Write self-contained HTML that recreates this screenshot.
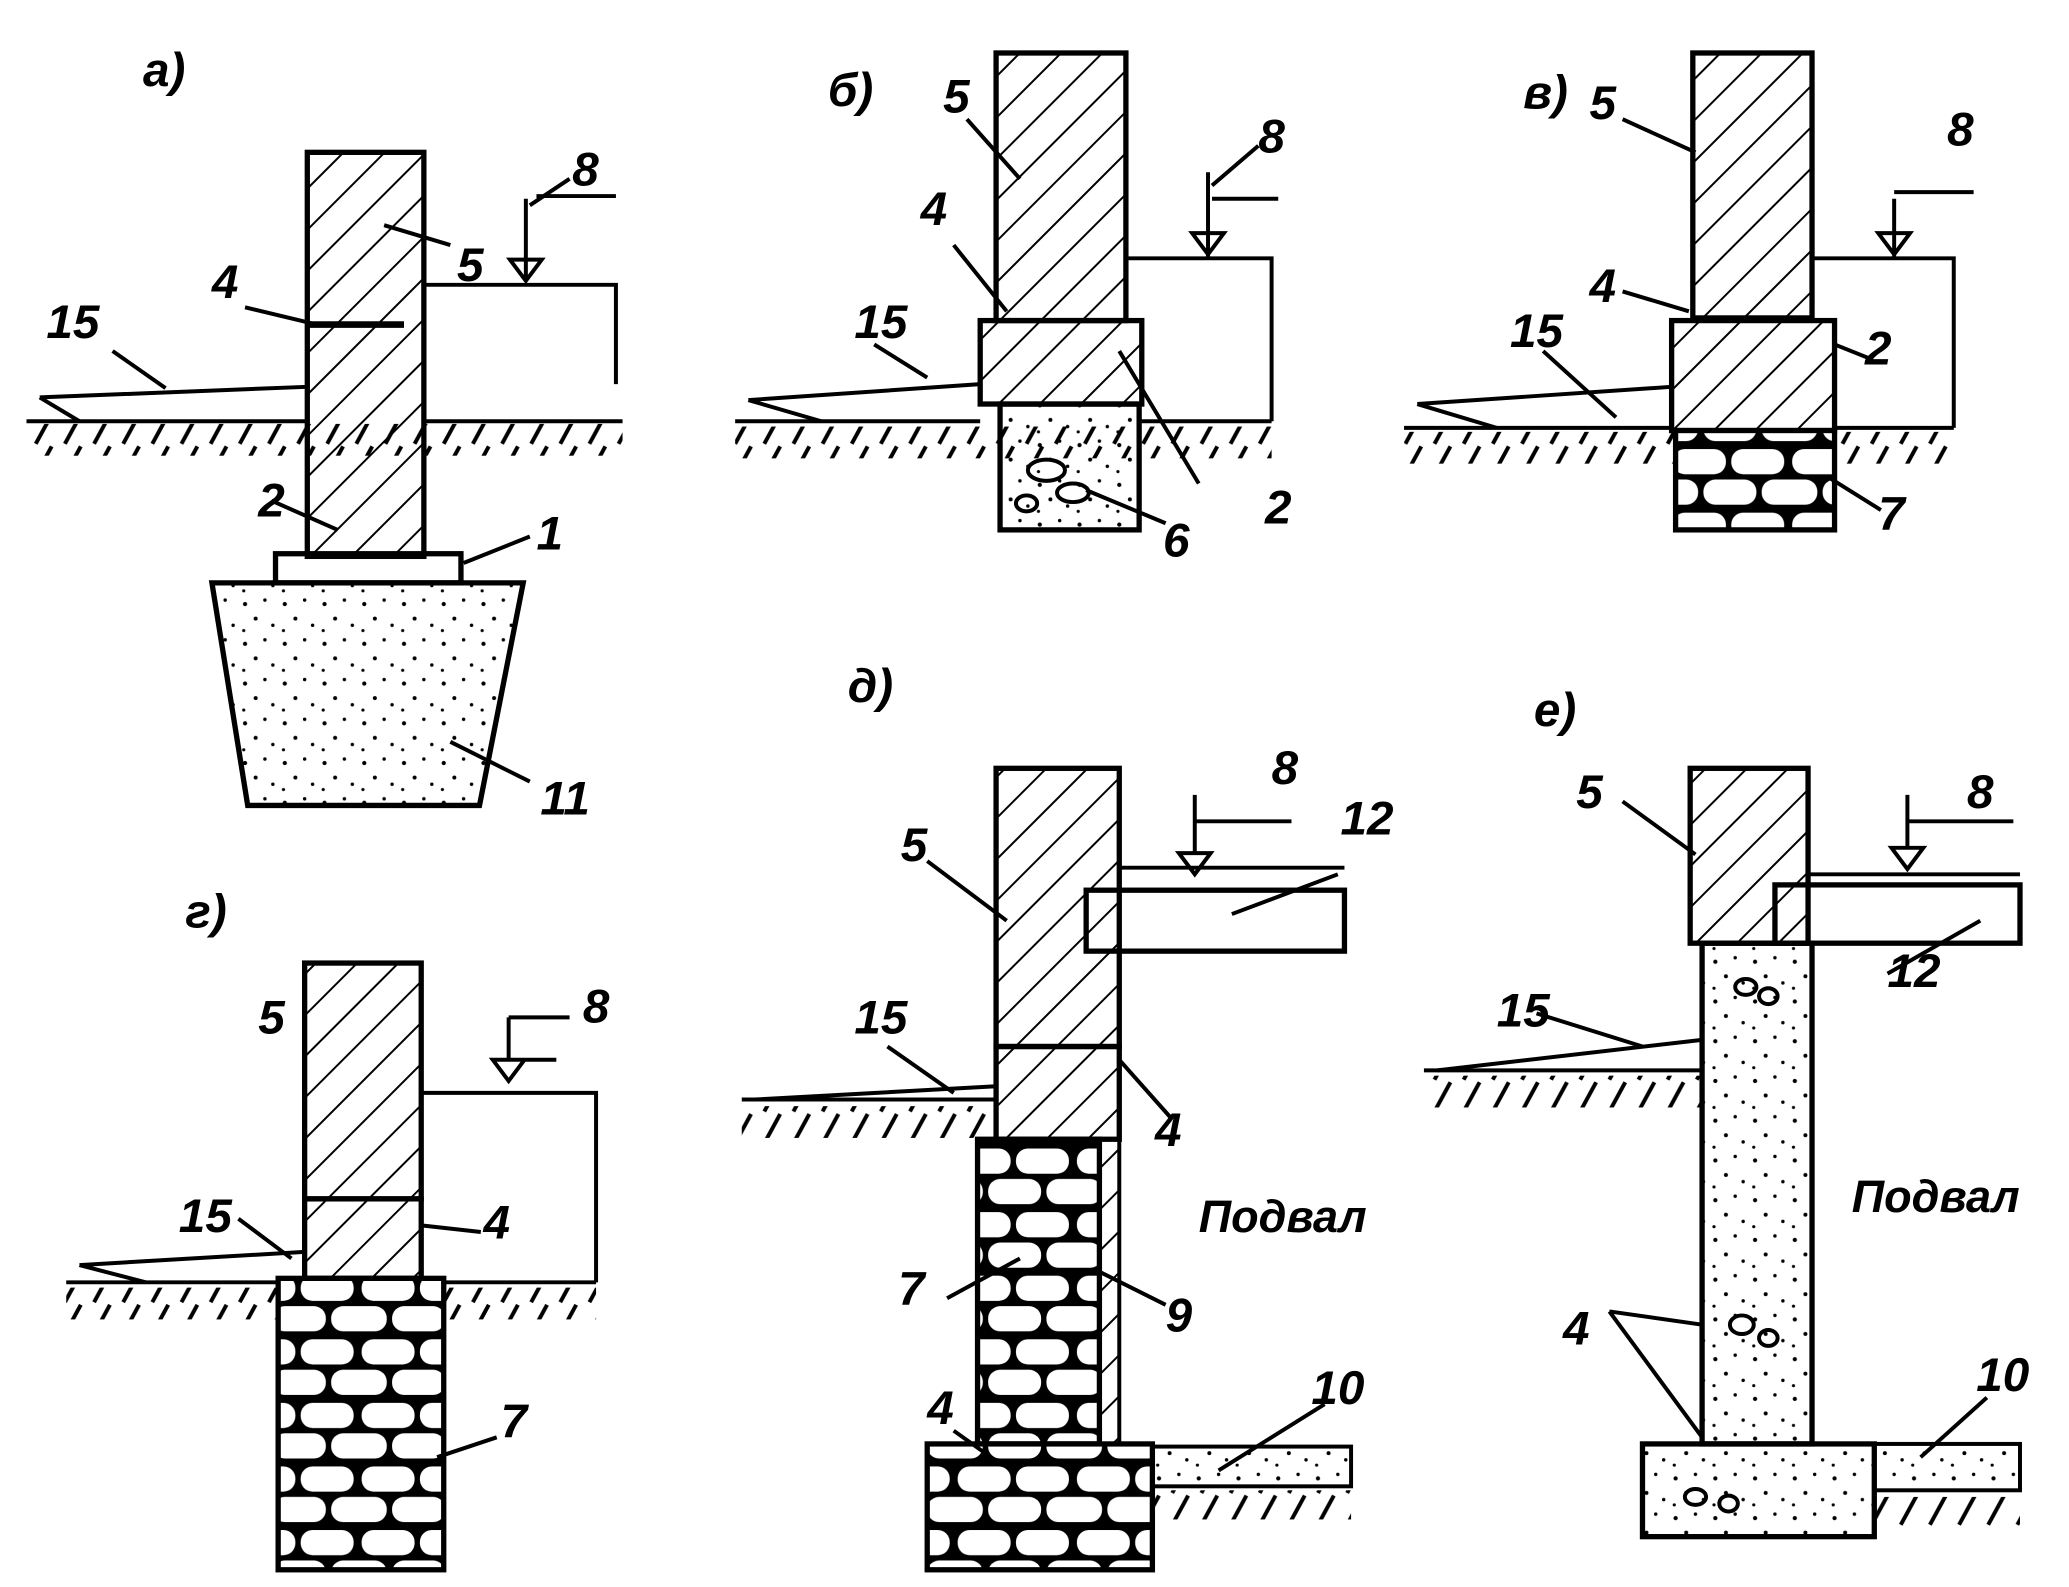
<!DOCTYPE html>
<html><head><meta charset="utf-8">
<style>html,body{margin:0;padding:0;background:#fff}svg{display:block}
text{font-family:"Liberation Sans",sans-serif;font-style:italic;font-weight:bold;fill:#000}</style></head>
<body>
<svg width="2069" height="1587" viewBox="0 0 1562 1198" preserveAspectRatio="none" xmlns="http://www.w3.org/2000/svg">
<defs>
<pattern id="h" width="22" height="22" patternUnits="userSpaceOnUse" patternTransform="rotate(45)">
<line x1="0" y1="0" x2="0" y2="22" stroke="#000" stroke-width="3"/></pattern>
<pattern id="d" width="30" height="30" patternUnits="userSpaceOnUse">
<circle cx="5" cy="6" r="1.6"/><circle cx="20" cy="3" r="1.3"/><circle cx="13" cy="17" r="1.5"/><circle cx="26" cy="22" r="1.3"/><circle cx="4" cy="26" r="1.2"/></pattern>
<pattern id="s" width="90" height="48" patternUnits="userSpaceOnUse">
<rect width="90" height="48" fill="#000"/>
<rect x="3" y="3" width="40" height="19" rx="9" fill="#fff"/><rect x="47" y="3" width="40" height="19" rx="9" fill="#fff"/>
<rect x="-20" y="26" width="42" height="19" rx="9" fill="#fff"/><rect x="26" y="26" width="40" height="19" rx="9" fill="#fff"/><rect x="70" y="26" width="42" height="19" rx="9" fill="#fff"/></pattern>
<pattern id="g" width="22" height="24" patternUnits="userSpaceOnUse">
<line x1="17" y1="1" x2="5" y2="23" stroke="#000" stroke-width="3"/></pattern>
</defs>
<g stroke="#000" stroke-width="3" fill="none">
<!-- a -->
<rect x="20" y="320" width="450" height="24" fill="url(#g)" stroke="none"/>
<line x1="20" y1="318" x2="232" y2="318"/><line x1="320" y1="318" x2="470" y2="318"/>
<path d="M30 300 L232 292 M60 318 L30 300"/>
<rect x="232" y="115" width="88" height="305" fill="url(#h)" stroke-width="4"/>
<line x1="232" y1="245" x2="305" y2="245" stroke-width="5"/>
<path d="M320 215 H465 V290"/>
<rect x="208" y="418" width="140" height="22" stroke-width="4"/>
<path d="M160 440 H395 L362 608 H187 Z" fill="url(#d)" stroke-width="4"/>
<path d="M385 196 h24 l-12 16 z M397 150 V210 M400 155 l30 -20 M405 148 H465" />
<path d="M290 170 l50 15 M185 232 l50 12 M85 265 l40 28 M205 378 l50 22 M350 425 l50 -20 M340 560 l60 30"/>
<!-- b -->
<rect x="555" y="322" width="405" height="24" fill="url(#g)" stroke="none"/>
<line x1="555" y1="318" x2="740" y2="318"/><line x1="860" y1="318" x2="960" y2="318"/>
<path d="M565 302 L740 290 M620 318 L565 302"/>
<rect x="752" y="40" width="98" height="202" fill="url(#h)" stroke-width="4"/>
<rect x="740" y="242" width="122" height="63" fill="url(#h)" stroke-width="4"/>
<rect x="755" y="305" width="105" height="95" fill="url(#d)" stroke-width="4"/>
<ellipse cx="790" cy="355" rx="14" ry="8"/><ellipse cx="810" cy="372" rx="12" ry="7"/><ellipse cx="775" cy="380" rx="8" ry="6"/>
<path d="M850 195 H960 V318 M900 176 h24 l-12 16 z M912 130 V195 M915 140 l35 -30 M915 150 H965"/>
<path d="M730 90 l40 45 M720 185 l40 50 M660 260 l40 25 M845 265 l60 100 M820 370 l60 25"/>
<!-- c -->
<rect x="1060" y="326" width="415" height="24" fill="url(#g)" stroke="none"/>
<line x1="1060" y1="323" x2="1262" y2="323"/><line x1="1385" y1="323" x2="1475" y2="323"/>
<path d="M1070 305 L1262 292 M1130 323 L1070 305"/>
<rect x="1278" y="40" width="90" height="200" fill="url(#h)" stroke-width="4"/>
<rect x="1262" y="242" width="123" height="83" fill="url(#h)" stroke-width="4"/>
<rect x="1265" y="325" width="120" height="75" fill="url(#s)" stroke-width="4"/>
<path d="M1368 195 H1475 V323 M1418 176 h24 l-12 16 z M1430 150 V195 M1430 145 H1490"/>
<path d="M1225 90 l55 25 M1225 220 l50 15 M1165 265 l55 50 M1385 260 l25 10 M1380 360 l40 25"/>
<!-- g -->
<rect x="50" y="972" width="400" height="24" fill="url(#g)" stroke="none"/>
<line x1="50" y1="968" x2="210" y2="968"/><line x1="335" y1="968" x2="450" y2="968"/>
<path d="M60 955 L230 945 M110 968 L60 955"/>
<rect x="230" y="727" width="88" height="178" fill="url(#h)" stroke-width="4"/>
<rect x="230" y="905" width="88" height="60" fill="url(#h)" stroke-width="4"/>
<rect x="210" y="965" width="125" height="220" fill="url(#s)" stroke-width="4"/>
<path d="M318 825 H450 V968 M372 800 h24 l-12 16 z M384 768 V800 H420 M384 768 H430"/>
<path d="M180 920 l40 30 M318 925 l45 5 M330 1100 l45 -15"/>
<!-- d -->
<rect x="560" y="835" width="192" height="24" fill="url(#g)" stroke="none"/>
<line x1="560" y1="830" x2="752" y2="830"/>
<path d="M570 830 L752 820"/>
<rect x="752" y="580" width="93" height="210" fill="url(#h)" stroke-width="4"/>
<rect x="752" y="790" width="93" height="70" fill="url(#h)" stroke-width="4"/>
<rect x="738" y="860" width="92" height="230" fill="url(#s)" stroke-width="4"/>
<rect x="830" y="860" width="15" height="230" fill="url(#h)" stroke-width="3"/>
<rect x="700" y="1090" width="170" height="95" fill="url(#s)" stroke-width="4"/>
<rect x="820" y="672" width="195" height="46" stroke-width="4"/>
<rect x="870" y="1092" width="150" height="30" fill="url(#d)" stroke-width="3"/>
<rect x="870" y="1125" width="150" height="22" fill="url(#g)" stroke="none"/>
<path d="M845 672 V655 H1015 M890 644 h24 l-12 16 z M902 600 V644 M902 620 H975"/>
<path d="M700 650 l60 45 M670 790 l50 35 M845 800 l40 45 M715 980 l55 -30 M830 960 l50 25 M720 1080 l35 25 M920 1110 l80 -50 M930 690 l80 -30"/>
<!-- e -->
<rect x="1075" y="812" width="210" height="24" fill="url(#g)" stroke="none"/>
<line x1="1075" y1="808" x2="1285" y2="808"/>
<path d="M1085 808 L1285 785"/>
<rect x="1276" y="580" width="89" height="132" fill="url(#h)" stroke-width="4"/>
<rect x="1285" y="712" width="83" height="378" fill="url(#d)" stroke-width="4"/>
<rect x="1240" y="1090" width="175" height="70" fill="url(#d)" stroke-width="4"/>
<rect x="1415" y="1090" width="110" height="35" fill="url(#d)" stroke-width="3"/>
<rect x="1415" y="1130" width="110" height="22" fill="url(#g)" stroke="none"/>
<rect x="1340" y="668" width="185" height="44" stroke-width="4"/>
<path d="M1365 668 V660 H1525 M1428 640 h24 l-12 16 z M1440 600 V640 M1440 620 H1520"/>
<ellipse cx="1318" cy="745" rx="8" ry="6"/><ellipse cx="1335" cy="752" rx="7" ry="6"/><ellipse cx="1315" cy="1000" rx="9" ry="7"/><ellipse cx="1335" cy="1010" rx="7" ry="6"/><ellipse cx="1280" cy="1130" rx="8" ry="6"/><ellipse cx="1305" cy="1135" rx="7" ry="6"/>
<path d="M1225 605 l55 40 M1160 765 l80 25 M1215 990 l70 10 M1215 990 l70 95 M1425 735 l70 -40 M1450 1100 l50 -45"/>
</g>
<g font-size="36">
<text x="108" y="65">а)</text><text x="345" y="212">5</text><text x="432" y="140">8</text><text x="160" y="225">4</text><text x="35" y="255">15</text><text x="195" y="390">2</text><text x="405" y="415">1</text><text x="408" y="615">11</text>
<text x="625" y="80">б)</text><text x="712" y="85">5</text><text x="950" y="115">8</text><text x="695" y="170">4</text><text x="645" y="255">15</text><text x="955" y="395">2</text><text x="878" y="420">6</text>
<text x="1150" y="82">в)</text><text x="1200" y="90">5</text><text x="1470" y="110">8</text><text x="1200" y="228">4</text><text x="1140" y="262">15</text><text x="1408" y="275">2</text><text x="1418" y="400">7</text>
<text x="140" y="700">г)</text><text x="195" y="780">5</text><text x="440" y="772">8</text><text x="135" y="930">15</text><text x="365" y="935">4</text><text x="378" y="1085">7</text>
<text x="640" y="530">д)</text><text x="680" y="650">5</text><text x="960" y="592">8</text><text x="1012" y="630">12</text><text x="645" y="780">15</text><text x="872" y="865">4</text><text x="678" y="985">7</text><text x="880" y="1005">9</text><text x="700" y="1075">4</text><text x="990" y="1060">10</text>
<text x="1158" y="548">е)</text><text x="1190" y="610">5</text><text x="1485" y="610">8</text><text x="1425" y="745">12</text><text x="1130" y="775">15</text><text x="1180" y="1015">4</text><text x="1492" y="1050">10</text>
<text x="905" y="930" font-size="34">Подвал</text><text x="1398" y="915" font-size="34">Подвал</text>
</g>
</svg>
</body></html>
